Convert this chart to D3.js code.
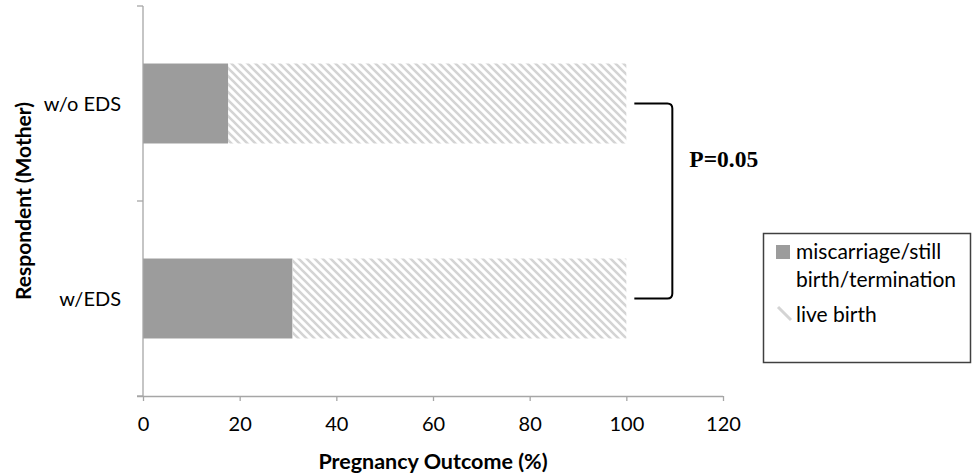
<!DOCTYPE html>
<html>
<head>
<meta charset="utf-8">
<script src="https://cdn.jsdelivr.net/npm/d3@7"></script>
<style>
  html, body { margin: 0; padding: 0; background: #fff; }
  svg { display: block; }
</style>
</head>
<body>
<svg id="chart" width="976" height="473"></svg>
<script>
// ---- data ----
const categories = ["w/o EDS", "w/EDS"];
const seriesNames = ["miscarriage/still birth/termination", "live birth"];
const miscarriage = [17.6, 30.9];
const liveBirth = [82.4, 69.1];
const xTicks = [0, 20, 40, 60, 80, 100, 120];
const xTitle = "Pregnancy Outcome (%)";
const yTitle = "Respondent (Mother)";
const pLabel = "P=0.05";

const SANS = "Lato, 'Open Sans', sans-serif";
const svg = d3.select("#chart").style("font-family", SANS);
const margin = { left: 143, top: 6, right: 253, bottom: 77 };
const W = 976, H = 473;

const x = d3.scaleLinear().domain([0, 120]).range([margin.left, W - margin.right]);
const y = d3.scaleBand().domain(categories).range([margin.top, H - margin.bottom]).paddingInner(0.59).paddingOuter(0.295);

// hatch pattern
const defs = svg.append("defs");
const pat = defs.append("pattern").attr("id", "hatch")
  .attr("patternUnits", "userSpaceOnUse").attr("width", 8).attr("height", 8);
pat.append("path").attr("d", "M-2,-2 L10,10 M-2,6 L2,10 M6,-2 L10,2")
  .attr("stroke", "#d4d4d4").attr("stroke-width", 2.6).attr("fill", "none");

const axisColor = "#a6a6a6";

// bars
const stackData = categories.map((c, i) => ({ cat: c, a: miscarriage[i], b: liveBirth[i] }));
svg.append("g").selectAll("rect").data(stackData).join("rect")
  .attr("x", d => x(0)).attr("y", d => y(d.cat))
  .attr("width", d => x(d.a) - x(0)).attr("height", y.bandwidth())
  .attr("fill", "#9c9c9c");
svg.append("g").selectAll("rect").data(stackData).join("rect")
  .attr("x", d => x(d.a)).attr("y", d => y(d.cat))
  .attr("width", d => x(d.a + d.b) - x(d.a)).attr("height", y.bandwidth())
  .attr("fill", "url(#hatch)");

// x axis
const xAxis = d3.axisBottom(x).tickValues(xTicks).tickSize(5).tickPadding(16).tickFormat(d3.format("d"));
const gx = svg.append("g").attr("transform", `translate(0,${H - margin.bottom})`).call(xAxis);
gx.attr("font-family", SANS).attr("font-size", 20);
gx.select(".domain").attr("stroke", axisColor).attr("stroke-width", 1.3).attr("d", `M${x(0)-6},0.5H${x(120)}`);
gx.selectAll(".tick line").attr("stroke", axisColor).attr("stroke-width", 1.3);
gx.selectAll(".tick text").attr("fill", "#000");

// y axis (band boundaries as ticks)
const gy = svg.append("g");
const [y0, y1] = y.range();
gy.append("line").attr("x1", x(0)).attr("x2", x(0)).attr("y1", y0).attr("y2", y1)
  .attr("stroke", axisColor).attr("stroke-width", 1.3);
const bounds = [y0, (y(categories[0]) + y.bandwidth() + y(categories[1])) / 2, y1];
gy.selectAll("line.t").data(bounds).join("line").attr("class", "t")
  .attr("x1", x(0) - 6).attr("x2", x(0)).attr("y1", d => d).attr("y2", d => d)
  .attr("stroke", axisColor).attr("stroke-width", 1.3);
gy.selectAll("text").data(categories).join("text")
  .attr("x", x(0) - 22).attr("y", d => y(d) + y.bandwidth() / 2).attr("dy", "0.35em")
  .attr("text-anchor", "end").attr("font-size", 20).text(d => d);

// axis titles
svg.append("text").attr("x", 433).attr("y", 469).attr("text-anchor", "middle")
  .attr("font-size", 21.5).attr("font-weight", 700).text(xTitle);
svg.append("text").attr("transform", `translate(31,${(y0 + y1) / 2}) rotate(-90)`)
  .attr("text-anchor", "middle").attr("font-size", 21).attr("font-weight", 700).text(yTitle);

// bracket
const bTop = y(categories[0]) + y.bandwidth() / 2;
const bBot = y(categories[1]) + y.bandwidth() / 2;
const bx0 = x(100) + 8, bx1 = x(100) + 46;
svg.append("path")
  .attr("d", `M${bx0},${bTop} L${bx1 - 5},${bTop} Q${bx1},${bTop} ${bx1},${bTop + 5} L${bx1},${bBot - 5} Q${bx1},${bBot} ${bx1 - 5},${bBot} L${bx0},${bBot}`)
  .attr("fill", "none").attr("stroke", "#000").attr("stroke-width", 2);
svg.append("text").attr("x", bx1 + 17).attr("y", 167)
  .style("font-family", "'Liberation Serif', 'DejaVu Serif', serif").attr("font-weight", 700)
  .attr("font-size", 23.5).text(pLabel);

// legend
const lg = svg.append("g");
lg.append("rect").attr("x", 763.5).attr("y", 233.5).attr("width", 207).attr("height", 129)
  .attr("fill", "#fff").attr("stroke", "#404040").attr("stroke-width", 1.5);
lg.append("rect").attr("x", 776).attr("y", 245).attr("width", 14).attr("height", 14).attr("fill", "#9c9c9c");
lg.append("text").attr("x", 796).attr("y", 259).attr("font-size", 21)
  .selectAll("tspan").data(["miscarriage/still", "birth/termination"]).join("tspan")
  .attr("x", 796).attr("dy", (d, i) => i === 0 ? 0 : 28).text(d => d);
lg.append("line").attr("x1", 778).attr("y1", 307).attr("x2", 791).attr("y2", 320)
  .attr("stroke", "#d4d4d4").attr("stroke-width", 3);
lg.append("text").attr("x", 796).attr("y", 322).attr("font-size", 21).text(seriesNames[1]);
</script>
</body>
</html>
